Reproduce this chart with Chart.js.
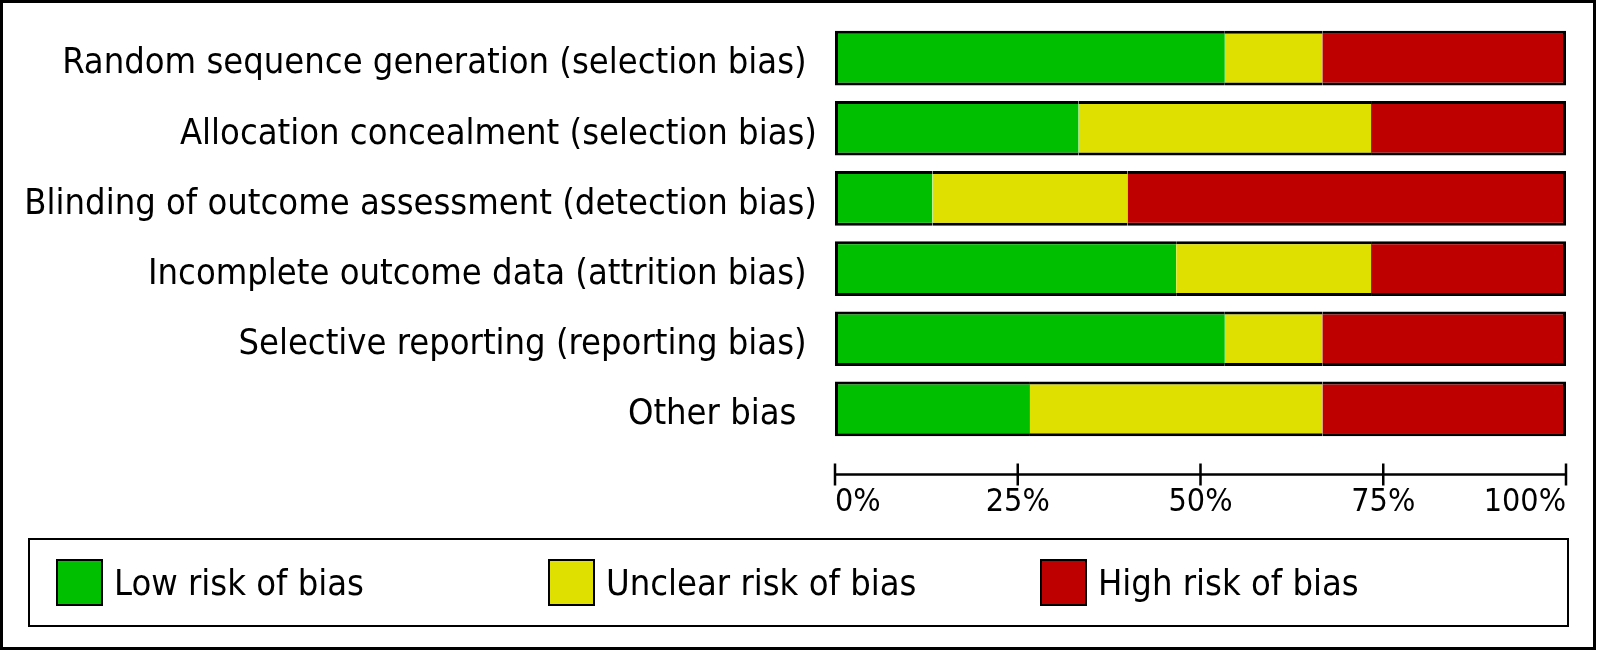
<!DOCTYPE html>
<html>
<head>
<meta charset="utf-8">
<title>Risk of bias graph</title>
<script src="https://cdn.jsdelivr.net/npm/chart.js@4.4.0/dist/chart.umd.min.js"></script>
<style>
  html, body { margin: 0; padding: 0; background: #fff; }
  #wrap { position: relative; width: 1600px; height: 652px; overflow: hidden; }
  #chart { position: absolute; left: 0; top: 0; }
  #frame {
    position: absolute; left: 0; top: 0; width: 1596px; height: 650px;
    border: 3px solid #000; box-sizing: border-box; pointer-events: none;
  }
  #legend {
    position: absolute; left: 28px; top: 538px; width: 1541px; height: 89px;
    border: 2px solid #000; box-sizing: border-box;
    display: flex; align-items: center; padding-left: 26px;
    font-family: 'DejaVu Sans Condensed', 'DejaVu Sans', sans-serif;
    font-size: 36px; color: #000;
  }
  .item { width: 492px; display: flex; align-items: center; }
  .swatch { width: 47px; height: 47px; border: 2px solid #000; box-sizing: border-box; margin-right: 11px; }
</style>
</head>
<body>
<div id="wrap">
  <canvas id="chart" width="1600" height="652"></canvas>
  <div id="legend"></div>
  <div id="frame"></div>
</div>
<script>
// ===================================
// DATA
// ===================================
const categories = [
  'Random sequence generation (selection bias) ',
  'Allocation concealment (selection bias)',
  'Blinding of outcome assessment (detection bias)',
  'Incomplete outcome data (attrition bias) ',
  'Selective reporting (reporting bias) ',
  'Other bias  '
];
const seriesNames = ['Low risk of bias', 'Unclear risk of bias', 'High risk of bias'];
const seriesColors = ['#00bf00', '#e0e000', '#bf0000'];

// percent of studies per judgement
const lowRisk     = [53.33, 33.33, 13.33, 46.67, 53.33, 26.67];
const unclearRisk = [13.33, 40.00, 26.67, 26.66, 13.33, 40.00];
const highRisk    = [33.34, 26.67, 60.00, 26.67, 33.34, 33.33];

const tickLabels = ['0%', '25%', '50%', '75%', '100%'];

const FONT = "'DejaVu Sans Condensed', 'DejaVu Sans', sans-serif";

// ===================================
// AXIS LINE (sits apart from the bars, like RevMan)
// ===================================
const axisLinePlugin = {
  id: 'axisLine',
  afterDraw(chart) {
    const x = chart.scales.x;
    const ctx = chart.ctx;
    const y = chart.chartArea.bottom + 30.5;
    ctx.save();
    ctx.strokeStyle = '#000';
    ctx.lineWidth = 2.5;
    ctx.beginPath();
    ctx.moveTo(x.getPixelForValue(0), y);
    ctx.lineTo(x.getPixelForValue(100), y);
    x.ticks.forEach(t => {
      const px = x.getPixelForValue(t.value);
      ctx.moveTo(px, y - 11);
      ctx.lineTo(px, y + 11);
    });
    ctx.stroke();
    ctx.restore();
  }
};

// one outline around the whole stacked bar, none between segments
function edge(l, r) {
  return { top: 3, bottom: 3, left: l, right: r };
}

const datasets = [lowRisk, unclearRisk, highRisk].map((vals, i) => ({
  label: seriesNames[i],
  data: vals,
  backgroundColor: seriesColors[i],
  borderColor: '#000',
  borderWidth: edge(i === 0 ? 3 : 0, i === 2 ? 3 : 0),
  borderSkipped: false,
  inflateAmount: 0,
  categoryPercentage: 1,
  barPercentage: 0.78
}));

new Chart(document.getElementById('chart'), {
  type: 'bar',
  data: { labels: categories, datasets: datasets },
  options: {
    indexAxis: 'y',
    responsive: false,
    animation: false,
    layout: { padding: { top: 23, right: 34, left: 0, bottom: 0 } },
    plugins: {
      legend: { display: false },
      tooltip: { enabled: false }
    },
    scales: {
      y: {
        stacked: true,
        grid: { display: false, drawTicks: false },
        border: { display: false },
        ticks: { color: '#000', padding: 18, labelOffset: 6, font: { family: FONT, size: 36 } },
        afterFit(scale) {
          scale.width = 835;
          scale.paddingTop = 0;
          scale.paddingBottom = 0;
        }
      },
      x: {
        stacked: true,
        min: 0,
        max: 100,
        grid: { display: false, drawTicks: false },
        border: { display: false },
        ticks: {
          stepSize: 25,
          align: 'inner',
          padding: 39,
          color: '#000',
          font: { family: FONT, size: 32 },
          callback: (v, i) => tickLabels[i]
        },
        afterFit(scale) {
          scale.height = 208;
          scale.paddingLeft = 0;
          scale.paddingRight = 0;
        }
      }
    }
  },
  plugins: [axisLinePlugin]
});

// legend built from the same series arrays
const legendEl = document.getElementById('legend');
seriesNames.forEach((name, i) => {
  const item = document.createElement('div');
  item.className = 'item';
  const sw = document.createElement('div');
  sw.className = 'swatch';
  sw.style.background = seriesColors[i];
  const txt = document.createElement('span');
  txt.textContent = name;
  item.appendChild(sw);
  item.appendChild(txt);
  legendEl.appendChild(item);
});
</script>
</body>
</html>
